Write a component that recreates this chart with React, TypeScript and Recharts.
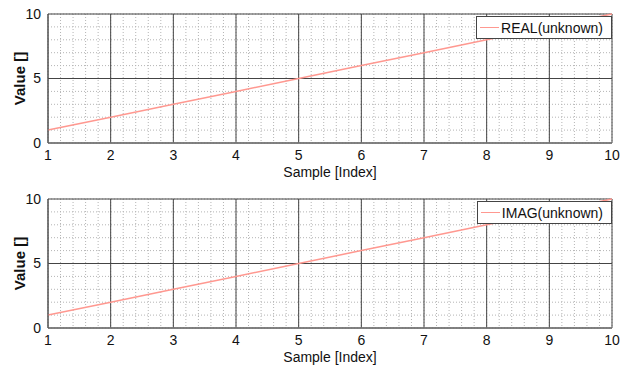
import React from 'react'
import { LineChart, Line, XAxis, YAxis, CartesianGrid, Legend } from 'recharts'

const samples = [1, 2, 3, 4, 5, 6, 7, 8, 9, 10]
const realValues = [1, 2, 3, 4, 5, 6, 7, 8, 9, 10]
const imagValues = [1, 2, 3, 4, 5, 6, 7, 8, 9, 10]

const xMajorTicks = [1, 2, 3, 4, 5, 6, 7, 8, 9, 10]
const yMajorTicks = [0, 5, 10]
const xMinorTicks = [
  1, 1.2, 1.4, 1.6, 1.8, 2, 2.2, 2.4, 2.6, 2.8, 3, 3.2, 3.4, 3.6, 3.8,
  4, 4.2, 4.4, 4.6, 4.8, 5, 5.2, 5.4, 5.6, 5.8, 6, 6.2, 6.4, 6.6, 6.8,
  7, 7.2, 7.4, 7.6, 7.8, 8, 8.2, 8.4, 8.6, 8.8, 9, 9.2, 9.4, 9.6, 9.8, 10,
]
const yMinorTicks = [0, 1, 2, 3, 4, 5, 6, 7, 8, 9, 10]

const font = '"Liberation Sans", Arial, sans-serif'
const lineColor = '#ff9890'

function LegendBox({ name }: { name: string }) {
  return (
    <div
      style={{
        display: 'flex',
        alignItems: 'center',
        border: '1px solid #444',
        background: '#fff',
        height: 21,
        padding: '0 8px 0 3px',
        fontFamily: font,
        fontSize: 14,
        color: '#111',
      }}
    >
      <span style={{ display: 'inline-block', width: 19, height: 0, borderTop: `1.5px solid ${lineColor}`, marginRight: 2 }} />
      <span>{name}</span>
    </div>
  )
}

function Panel({ name, values, top }: { name: string; values: number[]; top: number }) {
  const data = samples.map((s, i) => ({ x: s, v: values[i] }))
  return (
    <div style={{ position: 'absolute', left: 0, top, width: 636, height: 185 }}>
      <LineChart width={636} height={185} data={data} margin={{ top: 14, right: 24, bottom: 12, left: 8 }}>
        {/* minor dotted grid */}
        <CartesianGrid stroke="#b4b4b4" strokeDasharray="1 2" horizontalValues={yMinorTicks} verticalValues={xMinorTicks} />
        {/* major grid */}
        <CartesianGrid stroke="#444" horizontalValues={yMajorTicks} verticalValues={xMajorTicks} />
        <XAxis
          dataKey="x"
          type="number"
          domain={[1, 10]}
          ticks={xMajorTicks}
          interval={0}
          height={30}
          tickLine={false}
          tickMargin={1}
          axisLine={{ stroke: '#777', strokeWidth: 1.5 }}
          tick={{ fill: '#111', fontSize: 14, fontFamily: font }}
          label={{ value: 'Sample [Index]', position: 'insideBottom', offset: -4, fill: '#111', fontSize: 14, fontFamily: font }}
        />
        <YAxis
          type="number"
          domain={[0, 10]}
          ticks={yMajorTicks}
          interval={0}
          width={40}
          tickLine={false}
          tickMargin={1}
          axisLine={{ stroke: '#555' }}
          tick={{ fill: '#111', fontSize: 14, fontFamily: font }}
          label={{ value: 'Value []', angle: -90, position: 'center', dx: -8, fill: '#111', fontSize: 15, fontWeight: 'bold', fontFamily: font }}
        />
        <Line dataKey="v" stroke={lineColor} strokeWidth={1.5} dot={false} isAnimationActive={false} name={name} />
        <Legend
          layout="vertical"
          align="center"
          verticalAlign="middle"
          content={() => <LegendBox name={name} />}
          wrapperStyle={{ position: 'absolute', top: 16, right: 24, left: 'auto', width: 'auto' }}
        />
      </LineChart>
    </div>
  )
}

export default function App() {
  return (
    <div style={{ position: 'absolute', left: 0, top: 0, width: 636, height: 380, background: '#fff' }}>
      <Panel name="REAL(unknown)" values={realValues} top={0} />
      <Panel name="IMAG(unknown)" values={imagValues} top={185} />
    </div>
  )
}
